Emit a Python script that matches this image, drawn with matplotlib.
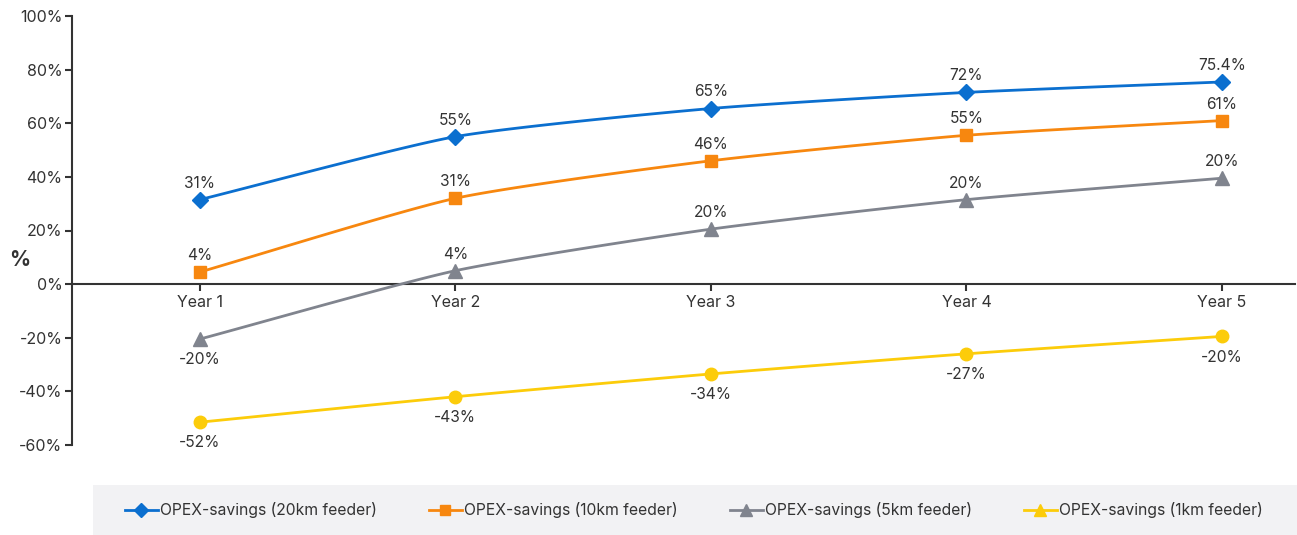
import numpy as np
import matplotlib.pyplot as plt
from matplotlib.lines import Line2D
from matplotlib.patches import Rectangle

plt.rcParams['font.family'] = ['Inter', 'DejaVu Sans']

years = ['Year 1', 'Year 2', 'Year 3', 'Year 4', 'Year 5']

# plotted positions (%)
feeder_20km = [31.5, 55, 65.5, 71.5, 75.4]
feeder_10km = [4.5, 32, 46, 55.5, 61]
feeder_5km = [-20.5, 5, 20.5, 31.5, 39.5]
feeder_1km = [-51.5, -42, -33.5, -26, -19.5]

# printed labels
labels_20km = ['31%', '55%', '65%', '72%', '75.4%']
labels_10km = ['4%', '31%', '46%', '55%', '61%']
labels_5km = ['-20%', '4%', '20%', '20%', '20%']
labels_1km = ['-52%', '-43%', '-34%', '-27%', '-20%']

# label above (1) or below (-1)
pos_20km = [1, 1, 1, 1, 1]
pos_10km = [1, 1, 1, 1, 1]
pos_5km = [-1, 1, 1, 1, 1]
pos_1km = [-1, -1, -1, -1, -1]

series = [
    ('OPEX-savings (20km feeder)', feeder_20km, labels_20km, pos_20km, '#0b6fcf', 'D', 'D', 8),
    ('OPEX-savings (10km feeder)', feeder_10km, labels_10km, pos_10km, '#f7870f', 's', 's', 8.5),
    ('OPEX-savings (5km feeder)', feeder_5km, labels_5km, pos_5km, '#80848e', '^', '^', 10),
    ('OPEX-savings (1km feeder)', feeder_1km, labels_1km, pos_1km, '#fccc0a', 'o', '^', 9),
]


def smooth(x, y, n=30):
    # catmull-rom style curve through the points (like Excel smoothed lines)
    x = np.asarray(x, float)
    y = np.asarray(y, float)
    px = np.concatenate([[2 * x[0] - x[1]], x, [2 * x[-1] - x[-2]]])
    py = np.concatenate([[2 * y[0] - y[1]], y, [2 * y[-1] - y[-2]]])
    xs, ys = [], []
    t = np.linspace(0, 1, n)
    for i in range(1, len(px) - 2):
        for p, out in ((px, xs), (py, ys)):
            p0, p1, p2, p3 = p[i - 1], p[i], p[i + 1], p[i + 2]
            m1 = (p2 - p0) / 2 * 0.6
            m2 = (p3 - p1) / 2 * 0.6
            h00 = 2 * t**3 - 3 * t**2 + 1
            h10 = t**3 - 2 * t**2 + t
            h01 = -2 * t**3 + 3 * t**2
            h11 = t**3 - t**2
            out.extend(h00 * p1 + h10 * m1 + h01 * p2 + h11 * m2)
    return np.array(xs), np.array(ys)


fig = plt.figure(figsize=(12.97, 5.35), dpi=100)
ax = fig.add_axes([72 / 1297, 1 - 445 / 535, (1295 - 72) / 1297, (445 - 16) / 535])

x = np.arange(len(years))
handles = []
for name, vals, labs, pos, col, mk, lmk, ms in series:
    sx, sy = smooth(x, vals)
    ax.plot(sx, sy, color=col, lw=2, solid_capstyle='round', zorder=3)
    ax.plot(x, vals, ls='none', marker=mk, color=col, ms=ms, zorder=4)
    for xi, v, lab, p in zip(x, vals, labs, pos):
        off = 6.5 if p > 0 else -9.5
        ax.annotate(lab, (xi, v), xytext=(0, off), textcoords='offset points',
                    ha='center', va='bottom' if p > 0 else 'top',
                    fontsize=11.2, color='#333333')
    handles.append(Line2D([], [], color=col, lw=2, marker=lmk, ms=ms * 0.9, label=name))

ax.set_xlim(-0.5, 4.286)
ax.set_ylim(-60, 100)
ax.set_yticks(np.arange(-60, 101, 20))
ax.set_yticklabels([f'{v}%' for v in range(-60, 101, 20)])
ax.set_xticks(x)
ax.set_xticklabels(years)

for s in ['top', 'right']:
    ax.spines[s].set_visible(False)
ax.spines['bottom'].set_position(('data', 0))
ax.spines['bottom'].set_color('#333333')
ax.spines['left'].set_color('#333333')
ax.spines['bottom'].set_linewidth(1.5)
ax.spines['left'].set_linewidth(1.5)
ax.tick_params(axis='both', colors='#333333', labelsize=11.5, width=1.5, length=5)
ax.tick_params(axis='x', pad=3)
ax.tick_params(axis='y', pad=2)

fig.text(20 / 1297, 1 - 260 / 535, '%', fontsize=15, fontweight='bold',
         color='#333333', ha='center', va='center')

fig.patches.append(Rectangle((93 / 1297, 0), 1 - 93 / 1297, 50 / 535,
                             transform=fig.transFigure, facecolor='#f2f2f4',
                             edgecolor='none', zorder=0))
fig.legend(handles=handles, loc='center', bbox_to_anchor=(0.535, 25 / 535),
           ncol=4, frameon=False, fontsize=11.3, handlelength=2.1,
           handletextpad=0.15, columnspacing=3.3, labelcolor='#333333')

fig.savefig('out.png', dpi=100)
